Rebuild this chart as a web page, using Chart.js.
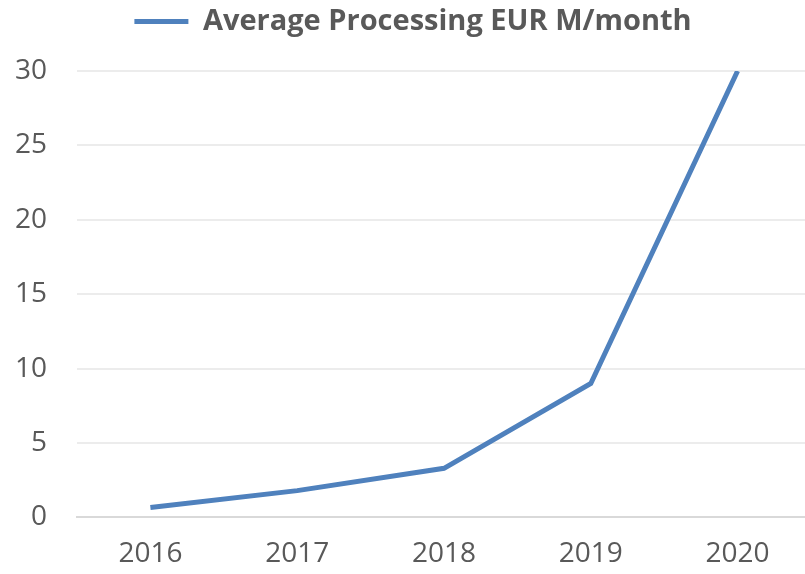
<!DOCTYPE html>
<html>
<head>
<meta charset="utf-8">
<script src="https://cdn.jsdelivr.net/npm/chart.js@4"></script>
<style>
html,body{margin:0;padding:0;background:#fff;overflow:hidden;}
#wrap{width:811px;height:574px;position:relative;}
</style>
</head>
<body>
<div id="wrap"><canvas id="c"></canvas></div>
<script>
const categories = ["2016", "2017", "2018", "2019", "2020"];
const seriesName = "Average Processing EUR M/month";
const seriesValues = [0.67, 1.8, 3.3, 9.0, 30.0];
const yTicks = [0, 5, 10, 15, 20, 25, 30];

const FONT = "'Open Sans', 'Noto Sans', sans-serif";
const legendGap = {
  id: 'legendGap',
  beforeInit(chart) {
    const orig = chart.legend.fit;
    chart.legend.fit = function () { orig.call(this); this.height += 25; };
  }
};
new Chart(document.getElementById('c'), {
  type: 'line',
  data: {
    labels: categories,
    datasets: [{
      label: seriesName,
      data: seriesValues,
      borderColor: '#4f81bd',
      backgroundColor: '#4f81bd',
      borderWidth: 5,
      pointRadius: 0,
      pointHoverRadius: 0,
      tension: 0,
      fill: false
    }]
  },
  plugins: [legendGap],
  options: {
    responsive: true,
    maintainAspectRatio: false,
    animation: false,
    layout: { padding: { left: 15, right: 0, top: 0, bottom: -17 } },
    plugins: {
      legend: {
        display: true,
        position: 'top',
        labels: {
          usePointStyle: true,
          pointStyle: 'line',
          pointStyleWidth: 54,
          color: '#595959',
          padding: 7,
          font: { family: FONT, size: 29, weight: 'bold' }
        }
      },
      tooltip: { enabled: false }
    },
    scales: {
      x: {
        offset: true,
        grid: { display: false, drawTicks: false },
        border: { display: true, color: '#d9d9d9', width: 2 },
        ticks: {
          color: '#595959',
          padding: 20,
          maxRotation: 0,
          font: { family: FONT, size: 28 }
        }
      },
      y: {
        min: yTicks[0],
        max: yTicks[yTicks.length - 1],
        afterBuildTicks: (axis) => { axis.ticks = yTicks.map(v => ({ value: v })); },
        afterFit: (axis) => { axis.width = 62; },
        grid: { color: '#ececec', lineWidth: 2, drawTicks: false },
        border: { display: false },
        ticks: {
          color: '#595959',
          padding: 30,
          font: { family: FONT, size: 28 }
        }
      }
    }
  }
});
</script>
</body>
</html>
